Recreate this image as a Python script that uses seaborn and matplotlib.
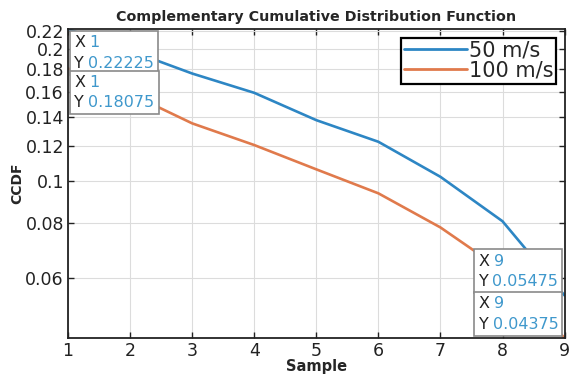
import numpy as np
import pandas as pd
import matplotlib
matplotlib.use("Agg")
import matplotlib.pyplot as plt
import seaborn as sns
from matplotlib.lines import Line2D
from matplotlib.offsetbox import AnnotationBbox, TextArea, HPacker, VPacker

# data
samples = [1, 2, 3, 4, 5, 6, 7, 8, 9]
ccdf_50 = [0.22225, 0.1985, 0.176, 0.159, 0.1377, 0.1229, 0.1022, 0.0809, 0.05475]
ccdf_100 = [0.18075, 0.1583, 0.1354, 0.1208, 0.1063, 0.0937, 0.0783, 0.0625, 0.04375]
series_names = ["50 m/s", "100 m/s"]
yticks = [0.06, 0.08, 0.1, 0.12, 0.14, 0.16, 0.18, 0.2, 0.22]
ytick_labels = ["0.06", "0.08", "0.1", "0.12", "0.14", "0.16", "0.18", "0.2", "0.22"]

BLUE = "#2d86c4"
ORANGE = "#e07a4c"
TIP_BLUE = "#3f98cc"

sns.set_style("ticks")
plt.rcParams["font.family"] = ["DejaVu Sans"]

df = pd.DataFrame({
    "Sample": samples * 2,
    "CCDF": ccdf_50 + ccdf_100,
    "speed": [series_names[0]] * len(samples) + [series_names[1]] * len(samples),
})

fig = plt.figure(figsize=(5.72, 3.79), dpi=100)
ax = fig.add_axes([0.119, 0.108, 0.868, 0.815])

sns.lineplot(data=df, x="Sample", y="CCDF", hue="speed",
             palette=[BLUE, ORANGE], linewidth=1.9, ax=ax, legend=False)

ax.set_yscale("log")
ax.set_xlim(1, 9)
ax.set_ylim(min(ccdf_100), max(ccdf_50))
ax.set_xticks(samples)
ax.set_yticks(yticks)
ax.set_yticklabels(ytick_labels)
ax.minorticks_off()
ax.grid(True, color="#dcdcdc", linewidth=0.8)
ax.set_axisbelow(True)

for s in ax.spines.values():
    s.set_color("#222222")
    s.set_linewidth(1.3)
ax.tick_params(direction="in", top=True, right=True, length=4, width=1,
               labelsize=12.5, colors="#222222", pad=3)

ax.set_title("Complementary Cumulative Distribution Function",
             fontsize=10.3, fontweight="bold", pad=6)
ax.set_xlabel("Sample", fontsize=10.5, fontweight="bold", labelpad=-1)
ax.set_ylabel("CCDF", fontsize=10, fontweight="bold", labelpad=1)

# legend
handles = [Line2D([], [], color=BLUE, lw=2), Line2D([], [], color=ORANGE, lw=2)]
leg = ax.legend(handles, series_names, loc="upper right", fontsize=15,
                frameon=True, fancybox=False, handlelength=3.0,
                handletextpad=0.1, borderpad=0.15, labelspacing=0.0,
                borderaxespad=0.4)
leg.get_frame().set_edgecolor("black")
leg.get_frame().set_linewidth(1.6)
leg.get_frame().set_alpha(1)

TIP_PAD = 0.45  # fraction of 10pt


def datatip(x, y, corner):
    row1 = HPacker(children=[
        TextArea("X", textprops=dict(color="#222222", size=11.5)),
        TextArea(f"{x:g}", textprops=dict(color=TIP_BLUE, size=11.5)),
    ], sep=3, pad=0)
    row2 = HPacker(children=[
        TextArea("Y", textprops=dict(color="#222222", size=11.5)),
        TextArea(f"{y:.5f}", textprops=dict(color=TIP_BLUE, size=11.5)),
    ], sep=3, pad=0)
    box = VPacker(children=[row1, row2], sep=4, pad=0, align="left")
    off = TIP_PAD * 10
    if corner == "top-left":
        align, shift = (0, 1), (off, -off)
    else:
        align, shift = (1, 0), (-off, off)
    ab = AnnotationBbox(box, (x, y), xybox=shift, boxcoords="offset points",
                        box_alignment=align, frameon=True, pad=TIP_PAD,
                        fontsize=10,
                        bboxprops=dict(edgecolor="#8a8a8a", facecolor="white",
                                       boxstyle="square", lw=1.2))
    ab.set_zorder(6)
    ax.add_artist(ab)


datatip(samples[0], ccdf_50[0], "top-left")
datatip(samples[0], ccdf_100[0], "top-left")
datatip(samples[-1], ccdf_50[-1], "bottom-right")
datatip(samples[-1], ccdf_100[-1], "bottom-right")

fig.savefig("out.png", dpi=100, facecolor="white")
